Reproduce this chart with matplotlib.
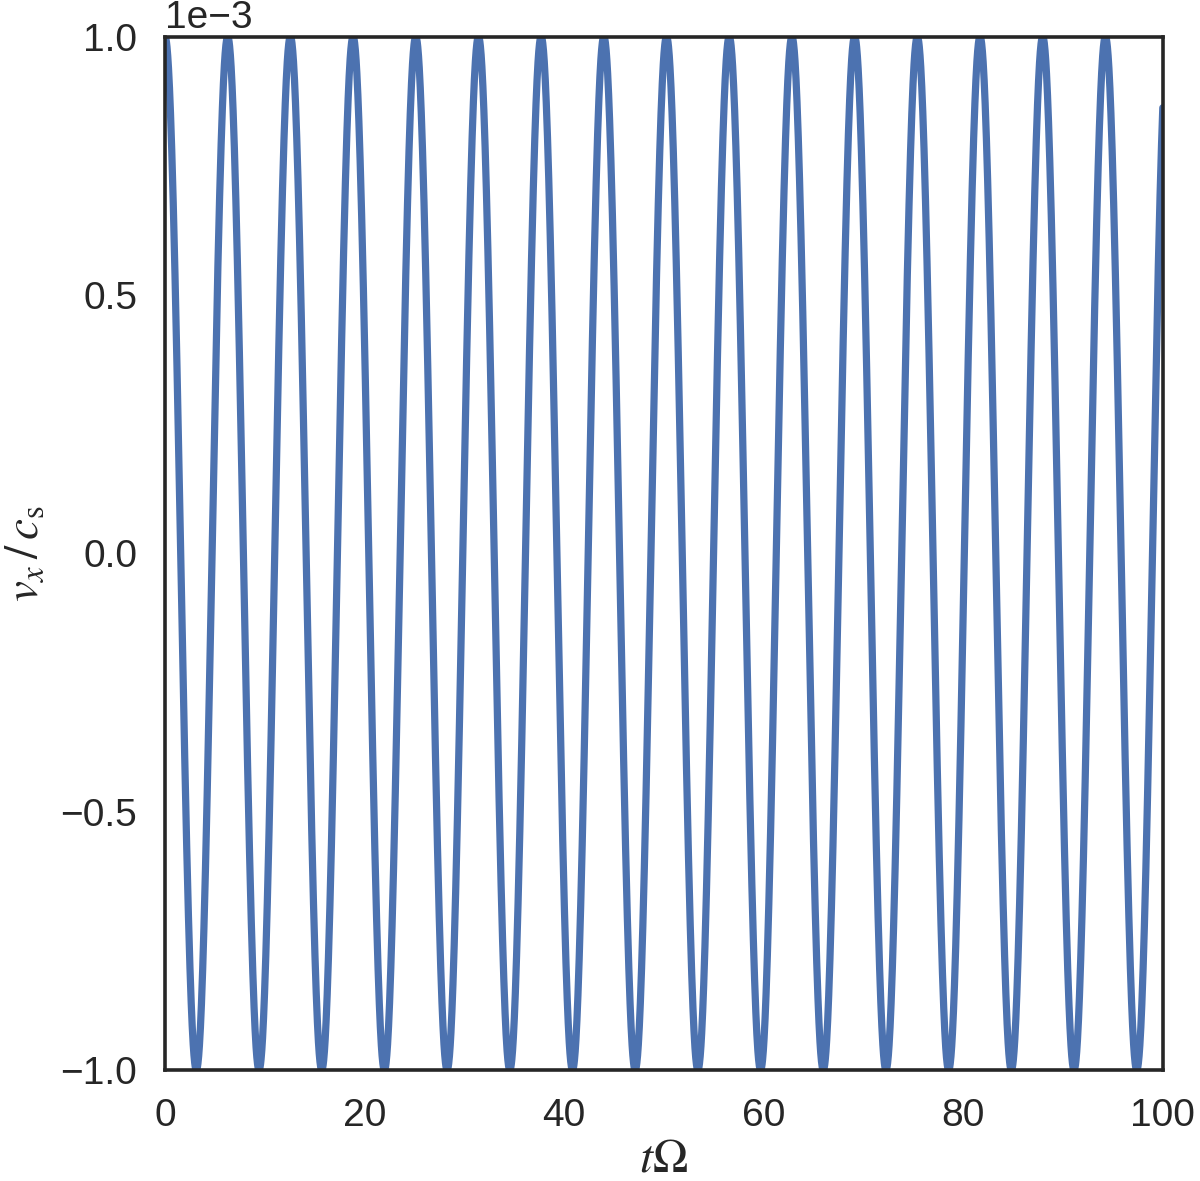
import numpy as np
import matplotlib
matplotlib.use('Agg')
import matplotlib.pyplot as plt
import seaborn as sns

# epicyclic oscillation: amplitude 1e-3, period ~2*pi
amplitude = 1e-3
period = 2 * np.pi
phase = 0.0
t_max = 100.0
yticks = [-1e-3, -0.5e-3, 0, 0.5e-3, 1e-3]
xticks = [0, 20, 40, 60, 80, 100]

t = np.linspace(0, t_max, 4000)
vx = amplitude * np.cos(2 * np.pi * t / period + phase)

sns.set_style('white')
sns.set_context('notebook')
plt.rcParams['font.family'] = ['Liberation Sans', 'DejaVu Sans']
plt.rcParams['mathtext.fontset'] = 'stix'
plt.rcParams['axes.edgecolor'] = '.15'

fig = plt.figure(figsize=(6, 5.905), dpi=200)
ax = fig.add_axes([0.1375, 0.094, 0.8315, 0.875])
ax.plot(t, vx, color='#4C72B0', lw=2.6)
ax.set_xlim(0, t_max)
ax.set_ylim(-amplitude, amplitude)
ax.set_xticks(xticks)
ax.set_yticks(yticks)
ax.ticklabel_format(axis='y', style='sci', scilimits=(0, 0))
ax.tick_params(labelsize=14, length=0, pad=10)
ax.yaxis.get_offset_text().set_fontsize(14)
for s in ax.spines.values():
    s.set_linewidth(1.3)
ax.set_xlabel(r'$t\mathit{\Omega}$', fontsize=17)
ax.set_ylabel(r'$v_x\,/\,c_{\rm s}$', fontsize=17)
ax.xaxis.set_label_coords(0.5, -0.065)
ax.yaxis.set_label_coords(-0.118, 0.5)

fig.savefig('out.png', dpi=200)
